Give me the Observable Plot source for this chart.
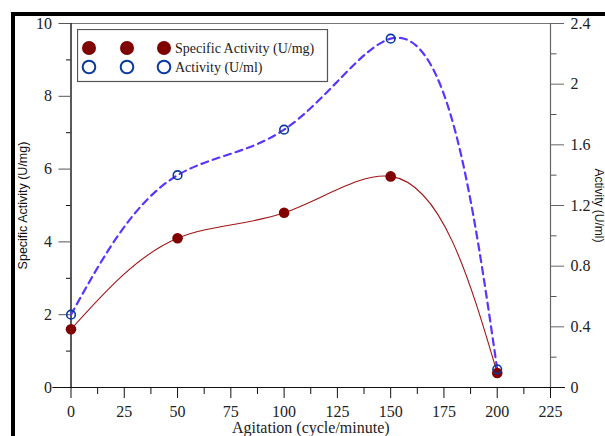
<!DOCTYPE html>
<html><head><meta charset="utf-8">
<script src="https://cdn.jsdelivr.net/npm/d3@7"></script>
<script src="https://cdn.jsdelivr.net/npm/@observablehq/plot@0.6"></script>
<style>
html,body{margin:0;padding:0;background:#fff;overflow:hidden;width:605px;height:436px}
#wrap{position:relative;width:605px;height:436px;overflow:hidden}
#frame{position:absolute;left:11px;top:12px;width:700px;height:600px;border-top:4px solid #000;border-left:4px solid #000;pointer-events:none}
#legend{position:absolute;left:77px;top:29px}
</style></head><body>
<div id="wrap"><div id="chart"></div><div id="frame"></div><svg id="legend" width="252" height="54"></svg></div>
<script>
const agitation = [0, 50, 100, 150, 200];
const specificActivity = [1.6, 4.1, 4.8, 5.8, 0.4];   // U/mg (left axis)
const activity = [0.48, 1.4, 1.7, 2.3, 0.12];        // U/ml (right axis)
const xMajor = [0, 25, 50, 75, 100, 125, 150, 175, 200, 225];
const xMinor = [12.5, 37.5, 62.5, 87.5, 112.5, 137.5, 162.5, 187.5, 212.5];
const yLeftMajor = [0, 2, 4, 6, 8, 10];
const yLeftMinor = [1, 3, 5, 7, 9];
const yRightMajor = [0, 0.4, 0.8, 1.2, 1.6, 2, 2.4];
const yRightMinor = [0.2, 0.6, 1.0, 1.4, 1.8, 2.2];
const seriesNames = ["Specific Activity (U/mg)", "Activity (U/ml)"];
const xTitle = "Agitation (cycle/minute)";
const yLeftTitle = "Specific Activity (U/mg)";
const yRightTitle = "Activity (U/ml)";

const ratio = 10 / 2.4; // right-axis value -> left-axis units
const sa = agitation.map((x, i) => ({x, y: specificActivity[i]}));
const ac = agitation.map((x, i) => ({x, y: activity[i] * ratio}));
const fmtR = d => String(+(d / ratio).toFixed(2));

// Parametric natural cubic spline (chord-based parameterisation), as a d3-style curve factory
function parametricNatural(alpha) {
  function Curve(context) { this._context = context; }
  Curve.prototype = {
    areaStart() { this._line = 0; }, areaEnd() { this._line = NaN; },
    lineStart() { this._x = []; this._y = []; },
    point(x, y) { this._x.push(+x); this._y.push(+y); },
    lineEnd() {
      const X = this._x, Y = this._y, n = X.length, c = this._context;
      if (!n) return;
      c.moveTo(X[0], Y[0]);
      if (n === 1) return;
      if (n === 2) { c.lineTo(X[1], Y[1]); return; }
      const h = [];
      for (let i = 0; i < n - 1; i++) h.push(Math.pow(Math.hypot(X[i+1]-X[i], Y[i+1]-Y[i]), alpha) || 1e-6);
      const solve = V => {
        const M = new Array(n).fill(0);
        const m = n - 2, a = [], b = [], cc = [], d = [];
        for (let i = 1; i <= m; i++) {
          a.push(h[i-1]); b.push(2 * (h[i-1] + h[i])); cc.push(h[i]);
          d.push(6 * ((V[i+1]-V[i]) / h[i] - (V[i]-V[i-1]) / h[i-1]));
        }
        for (let i = 1; i < m; i++) { const w = a[i] / b[i-1]; b[i] -= w * cc[i-1]; d[i] -= w * d[i-1]; }
        const s = new Array(m);
        s[m-1] = d[m-1] / b[m-1];
        for (let i = m - 2; i >= 0; i--) s[i] = (d[i] - cc[i] * s[i+1]) / b[i];
        for (let i = 0; i < m; i++) M[i+1] = s[i];
        return M;
      };
      const MX = solve(X), MY = solve(Y);
      for (let i = 0; i < n - 1; i++) {
        const hi = h[i];
        const dx0 = (X[i+1]-X[i]) / hi - hi * (2*MX[i] + MX[i+1]) / 6;
        const dy0 = (Y[i+1]-Y[i]) / hi - hi * (2*MY[i] + MY[i+1]) / 6;
        const dx1 = (X[i+1]-X[i]) / hi + hi * (MX[i] + 2*MX[i+1]) / 6;
        const dy1 = (Y[i+1]-Y[i]) / hi + hi * (MY[i] + 2*MY[i+1]) / 6;
        c.bezierCurveTo(X[i] + dx0*hi/3, Y[i] + dy0*hi/3, X[i+1] - dx1*hi/3, Y[i+1] - dy1*hi/3, X[i+1], Y[i+1]);
      }
    }
  };
  return context => new Curve(context);
}
const smooth = parametricNatural(0.75);

const serif = "Liberation Serif, Times New Roman, serif";
const sans = "Liberation Sans, Arial, sans-serif";

const chart = Plot.plot({
  width: 605, height: 436,
  marginLeft: 70.5, marginRight: 55, marginTop: 23, marginBottom: 49,
  style: {fontFamily: serif, fontSize: "16px", color: "#222", background: "transparent"},
  x: {domain: [0, 225]},
  y: {domain: [0, 10]},
  marks: [
    Plot.ruleY([10], {stroke: "#777", strokeWidth: 1}),
    Plot.ruleX([225], {stroke: "#666", strokeWidth: 1.2}),
    Plot.ruleX([0], {stroke: "#000", strokeWidth: 1.3}),
    Plot.ruleY([0], {x1: -8.5, x2: 232, stroke: "#111", strokeWidth: 1.2}),
    Plot.axisX(xMajor, {tickSize: 11, tickPadding: 7, stroke: "#111", fill: "#222", label: null, tickFormat: d => String(d)}),
    Plot.axisX(xMinor, {tickSize: 7, stroke: "#111", label: null, tickFormat: () => ""}),
    Plot.axisY(yLeftMajor.filter(d => d > 0), {anchor: "left", tickSize: 12, tickPadding: 7, stroke: "#555", fill: "#222", label: null, tickFormat: d => String(d)}),
    Plot.axisY([0], {anchor: "left", tickSize: 0, tickPadding: 19, fill: "#222", label: null, tickFormat: d => String(d)}),
    Plot.axisY(yLeftMinor, {anchor: "left", tickSize: 4.5, stroke: "#111", label: null, tickFormat: () => ""}),
    Plot.axisY(yRightMajor.filter(d => d > 0).map(d => d * ratio), {anchor: "right", tickSize: 13, tickPadding: 7, stroke: "#666", fill: "#222", label: null, tickFormat: fmtR}),
    Plot.axisY([0], {anchor: "right", tickSize: 0, tickPadding: 20, fill: "#222", label: null, tickFormat: fmtR}),
    Plot.axisY(yRightMinor.map(d => d * ratio), {anchor: "right", tickSize: 5.5, stroke: "#555", label: null, tickFormat: () => ""}),
    Plot.text([yLeftTitle], {frameAnchor: "left", dx: -48, rotate: -90, textAnchor: "middle", lineAnchor: "middle", fontFamily: sans, fontSize: 12.5, fill: "#111"}),
    Plot.text([yRightTitle], {frameAnchor: "right", dx: 48, rotate: 90, textAnchor: "middle", lineAnchor: "middle", fontFamily: sans, fontSize: 12, fill: "#111"}),
    Plot.text([xTitle], {frameAnchor: "bottom", dy: 45, textAnchor: "middle", lineAnchor: "bottom", fontSize: 16, fill: "#222"}),
    Plot.line(ac, {x: "x", y: "y", curve: smooth, stroke: "#5a35ff", strokeWidth: 2.2, strokeDasharray: "7,5"}),
    Plot.line(sa, {x: "x", y: "y", curve: smooth, stroke: "#a01515", strokeWidth: 1.1}),
    Plot.dot(sa, {x: "x", y: "y", r: 5.3, fill: "#800000", stroke: "none"}),
    Plot.dot(ac, {x: "x", y: "y", r: 4.3, fill: "none", stroke: "#0a3aa0", strokeWidth: 1.6})
  ]
});
document.getElementById("chart").appendChild(chart);

// legend
const lg = d3.select("#legend");
lg.append("rect").attr("x", 0.5).attr("y", 0.5).attr("width", 250).attr("height", 52)
  .attr("fill", "#fff").attr("stroke", "#555").attr("stroke-width", 1.2);
const rows = [
  {name: seriesNames[0], fill: "#800000", stroke: "none", sw: 0, cy: 19, r: 7},
  {name: seriesNames[1], fill: "none", stroke: "#0a3aa0", sw: 2, cy: 38, r: 6.3}
];
rows.forEach(row => {
  [12, 50, 87].forEach(cx => {
    lg.append("circle").attr("cx", cx).attr("cy", row.cy).attr("r", row.r)
      .attr("fill", row.fill).attr("stroke", row.stroke).attr("stroke-width", row.sw);
  });
  lg.append("text").attr("x", 98).attr("y", row.cy).attr("dy", "0.35em")
    .attr("font-family", serif).attr("font-size", 14).attr("fill", "#222").text(row.name);
});
</script>
</body></html>
